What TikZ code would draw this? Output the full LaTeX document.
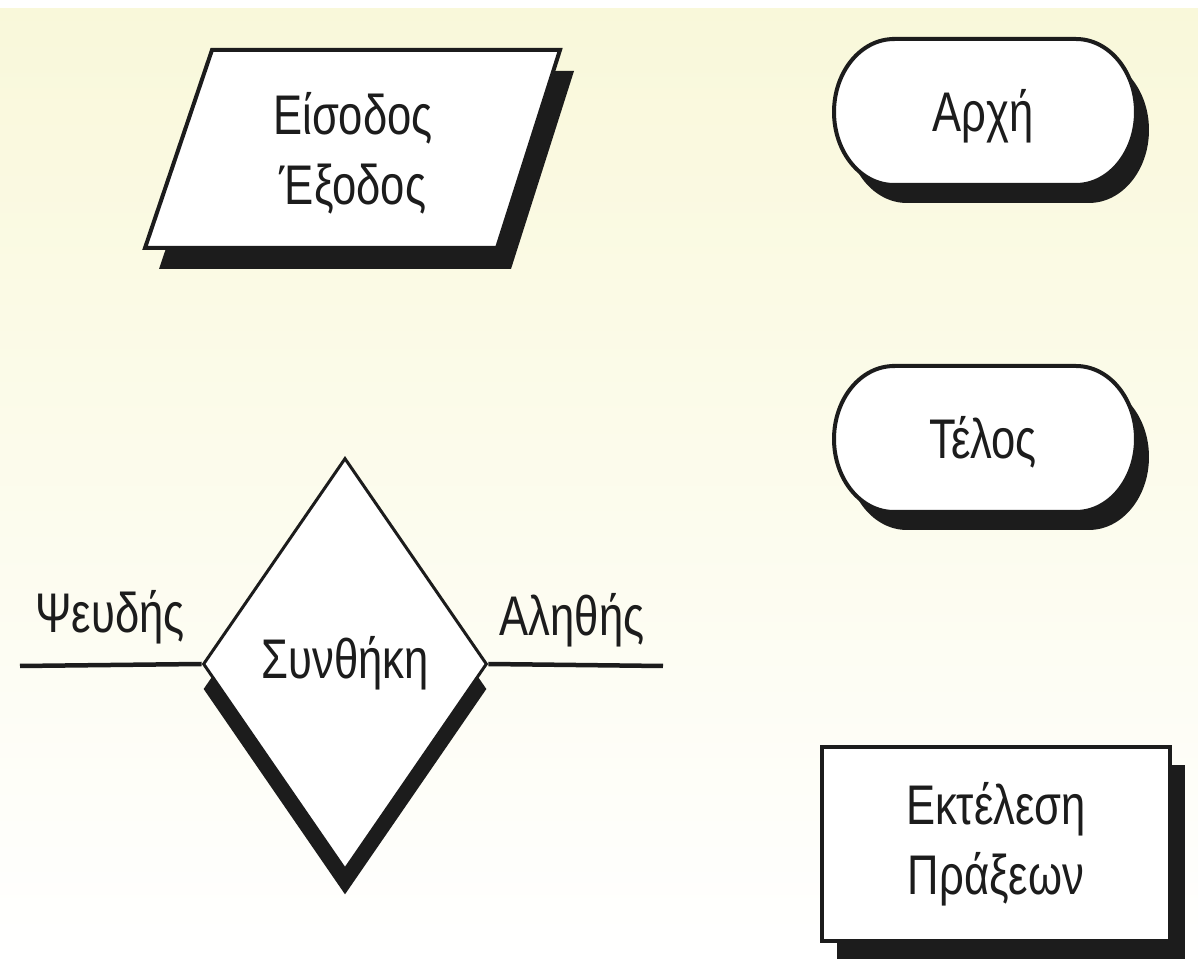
\documentclass[tikz,border=0pt]{standalone}
\usepackage{fontspec}
\setmainfont{Liberation Sans}[FakeStretch=0.78]
\usetikzlibrary{shapes.geometric,shadows}
\definecolor{paper}{RGB}{249,248,218}
\definecolor{papermid}{RGB}{251,251,232}
\definecolor{ink}{RGB}{28,28,28}
\begin{document}
\begin{tikzpicture}[x=0.02cm,y=-0.02cm,
  symtext/.style={font=\fontsize{31.8}{39.8}\selectfont, text=ink, align=center},
  outline/.style={draw=ink, line width=0.08cm, fill=white},
  wire/.style={draw=ink, line width=0.09cm},
]
\useasboundingbox (0,0) rectangle (1198,962);
% paper background
\shade[top color=paper, middle color=papermid, bottom color=white] (0,8) rectangle (1198,962);
\fill[white] (0,0) rectangle (1198,8);

% input / output parallelogram
\fill[ink] (226,71) -- (574,71) -- (511,269) -- (159,269) -- cycle;
\draw[outline] (212,50) -- (560,50) -- (497,248) -- (145,248) -- cycle;
\node[symtext] (io) at (353,153) {Είσοδος\\Έξοδος};

% start and end terminals: capsules with flattened round ends
\foreach \cy in {112,439}{
  \fill[ink, shift={(13,18)}] (894,\cy-73) -- (1076,\cy-73)
    arc[start angle=90, end angle=-90, x radius=1.2cm, y radius=1.46cm]
    -- (894,\cy+73)
    arc[start angle=270, end angle=90, x radius=1.2cm, y radius=1.46cm] -- cycle;
  \draw[outline] (894,\cy-73) -- (1076,\cy-73)
    arc[start angle=90, end angle=-90, x radius=1.2cm, y radius=1.46cm]
    -- (894,\cy+73)
    arc[start angle=270, end angle=90, x radius=1.2cm, y radius=1.46cm] -- cycle;
}
\node[symtext, text height=0.8cm, text depth=0cm] (start) at (983,112) {Αρχή};
\node[symtext, text height=0.8cm, text depth=0cm] (end) at (983,439) {Τέλος};

% process box
\node[outline, rectangle, minimum width=6.96cm, minimum height=3.88cm,
  drop shadow={shadow xshift=0.3cm, shadow yshift=-0.36cm, opacity=1, fill=ink},
  symtext] (proc) at (996,844) {Εκτέλεση\\Πράξεων};

% decision diamond with its two exits
\node[diamond, draw=ink, line width=0.06cm, fill=white, inner sep=0pt,
  minimum width=5.68cm, minimum height=8.24cm,
  text height=0.8cm, text depth=0.2cm, symtext,
  drop shadow={shadow xshift=0cm, shadow yshift=-0.5cm, opacity=1, fill=ink}]
  (cond) at (345,664) {Συνθήκη};
\coordinate (falseEnd) at (20,666);
\coordinate (trueEnd) at (663,666);
\draw[wire] (cond.west) -- (falseEnd);
\draw[wire] (cond.east) -- (trueEnd);
\node[symtext, anchor=base] (falseLbl) at (110,633) {Ψευδής};
\node[symtext, anchor=base] (trueLbl) at (572,636) {Αληθής};
\end{tikzpicture}
\end{document}
